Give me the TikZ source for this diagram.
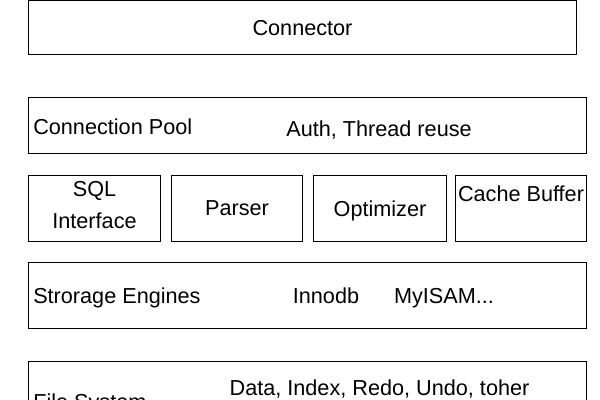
\documentclass[tikz,border=0pt]{standalone}
\usepackage{fontspec}
\setmainfont{Liberation Sans}
\usepackage{tikz}
\tikzset{
  layer/.style={draw=black, line width=0.7pt, inner sep=0pt},
  lbl/.style={inner sep=0pt, font=\fontsize{15.4}{22.8}\selectfont},
}

\begin{document}
\begin{tikzpicture}[x=0.025cm, y=-0.025cm]
\useasboundingbox (0,0) rectangle (600,400);
\clip (0,0) rectangle (600,400);
% layers
\node[layer, minimum width=13.675cm, minimum height=1.325cm] (conn) at (302.5,27.5) {};
\node[layer, minimum width=13.925cm, minimum height=1.375cm] (pool) at (307.5,125.5) {};
\node[layer, minimum width=3.275cm, minimum height=1.625cm] (sqli) at (94.5,208.5) {};
\node[layer, minimum width=3.25cm, minimum height=1.625cm] (parser) at (237,208.5) {};
\node[layer, minimum width=3.3cm, minimum height=1.625cm] (optim) at (380,208.5) {};
\node[layer, minimum width=3.25cm, minimum height=1.625cm] (cache) at (521,208.5) {};
\node[layer, minimum width=13.925cm, minimum height=1.625cm] (store) at (307.5,295.5) {};
\node[layer, minimum width=13.925cm, minimum height=1.625cm] (files) at (307.5,394.5) {};
% texts
\node[lbl, anchor=base] (conntxt) at (302.5,35.5) {Connector};
\node[lbl, anchor=base west] (pooltxt) at (33,135) {Connection Pool};
\node[lbl, anchor=base] (authtxt) at (379,137) {Auth, Thread reuse};
\node[lbl, align=center] (sqlitxt) at (94.5,205) {SQL\\Interface};
\node[lbl, anchor=base] (parsertxt) at (237,216) {Parser};
\node[lbl, anchor=base] (optimtxt) at (380,216.5) {Optimizer};
\node[lbl, anchor=base] (cachetxt) at (521,202) {Cache Buffer};
\node[lbl, anchor=base west] (storetxt) at (33,304) {Strorage Engines};
\node[lbl, anchor=base] (innotxt) at (326,304) {Innodb};
\node[lbl, anchor=base] (myisamtxt) at (444,304) {MyISAM...};
\node[lbl, anchor=base west] (filestxt) at (33,409) {File System};
\node[lbl, anchor=base] (datatxt) at (379.5,396) {Data, Index, Redo, Undo, toher};
\end{tikzpicture}
\end{document}
